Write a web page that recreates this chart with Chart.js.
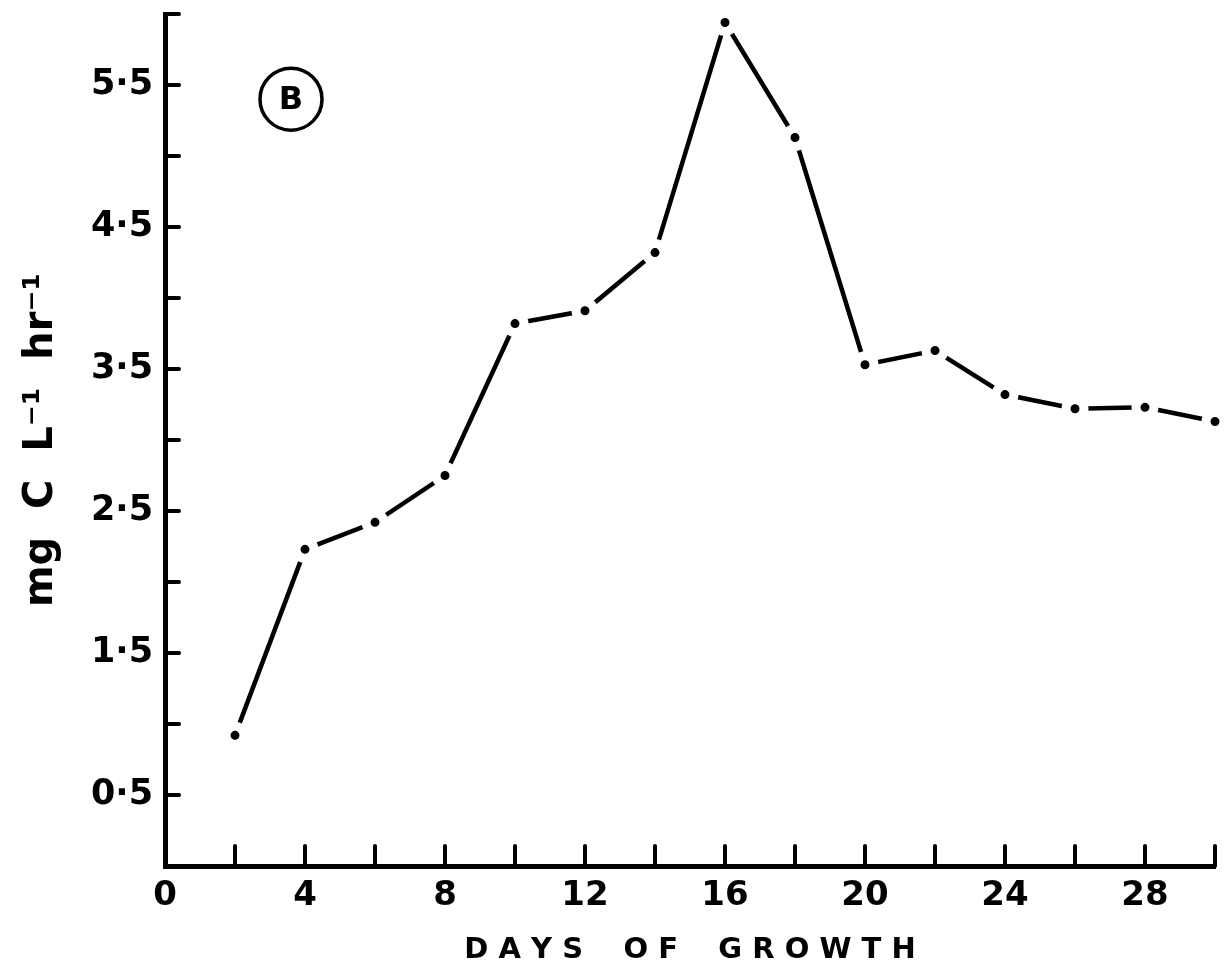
<!DOCTYPE html>
<html>
<head>
<meta charset="utf-8">
<script src="https://cdn.jsdelivr.net/npm/chart.js@4.4.1/dist/chart.umd.min.js"></script>
<style>
  html, body { margin: 0; padding: 0; background: #fff; }
  #wrap { width: 1225px; height: 968px; }
</style>
</head>
<body>
<div id="wrap"><canvas id="growth-chart" width="1225" height="968"></canvas></div>
<script>
    // days of growth and carbon uptake (mg C per litre per hour)
    const days = [2, 4, 6, 8, 10, 12, 14, 16, 18, 20, 22, 24, 26, 28, 30];
    const carbon = [0.92, 2.23, 2.42, 2.75, 3.82, 3.91, 4.32, 5.94, 5.13, 3.53, 3.63, 3.32, 3.22, 3.23, 3.13];
    const xTickLabels = [0, 4, 8, 12, 16, 20, 24, 28];
    const yTickLabels = [0.5, 1.5, 2.5, 3.5, 4.5, 5.5];

    const ink = '#000';

    // inward tick marks + panel letter, drawn from the scales
    const inwardTicks = {
        id: 'inwardTicks',
        afterDraw: function (chart) {
            const ctx = chart.ctx;
            const xs = chart.scales.x;
            const ys = chart.scales.y;
            const area = chart.chartArea;
            ctx.save();
            ctx.strokeStyle = ink;
            ctx.lineWidth = 4;
            ctx.lineCap = 'round';
            for (let d = 2; d <= 30; d += 2) {
                const px = xs.getPixelForValue(d);
                ctx.beginPath();
                ctx.moveTo(px, area.bottom);
                ctx.lineTo(px, area.bottom - 20);
                ctx.stroke();
            }
            for (let v = 0.5; v <= 6.0001; v += 0.5) {
                const py = ys.getPixelForValue(v);
                ctx.beginPath();
                ctx.moveTo(area.left, py);
                ctx.lineTo(area.left + 14, py);
                ctx.stroke();
            }
            // circled B
            const bx = xs.getPixelForValue(3.6);
            const by = ys.getPixelForValue(5.4);
            ctx.lineWidth = 3.5;
            ctx.beginPath();
            ctx.arc(bx, by, 31, 0, Math.PI * 2);
            ctx.stroke();
            ctx.fillStyle = ink;
            ctx.font = 'bold 32px "DejaVu Sans"';
            ctx.textAlign = 'center';
            ctx.textBaseline = 'middle';
            ctx.fillText('B', bx, by + 1);
            ctx.restore();
        }
    };

    const ctx = document.getElementById('growth-chart');
    new Chart(ctx, {
        type: 'line',
        data: {
            labels: days,
            datasets: [{
                label: 'carbon uptake',
                data: days.map((d, i) => ({ x: d, y: carbon[i] })),
                borderColor: ink,
                borderWidth: 4.5,
                pointRadius: 9,
                pointBorderWidth: 9,
                pointBackgroundColor: ink,
                pointBorderColor: '#fff',
                tension: 0,
                fill: false,
                clip: false
            }]
        },
        options: {
            responsive: false,
            animation: false,
            layout: { autoPadding: false, padding: { top: 14, right: 10, left: 0, bottom: 0 } },
            plugins: {
                legend: { display: false },
                tooltip: { enabled: false }
            },
            scales: {
                x: {
                    type: 'linear',
                    min: 0,
                    max: 30,
                    afterBuildTicks: function (scale) {
                        scale.ticks = xTickLabels.map(v => ({ value: v }));
                    },
                    afterFit: function (scale) {
                        scale.height = 102;
                        scale.paddingLeft = 0;
                        scale.paddingRight = 0;
                    },
                    grid: { display: false, drawTicks: false },
                    border: { display: true, color: ink, width: 5 },
                    ticks: {
                        color: ink,
                        font: { family: 'DejaVu Sans', weight: 'bold', size: 34 },
                        padding: 10,
                        maxRotation: 0,
                        autoSkip: false
                    },
                    title: {
                        display: true,
                        text: 'D A Y S    O F    G R O W T H',
                        color: ink,
                        font: { family: 'DejaVu Sans', weight: 'bold', size: 29 },
                        padding: { top: 2, bottom: 0 }
                    }
                },
                y: {
                    type: 'linear',
                    min: 0,
                    max: 6,
                    afterBuildTicks: function (scale) {
                        scale.ticks = yTickLabels.map(v => ({ value: v }));
                    },
                    afterFit: function (scale) {
                        scale.width = 165;
                        scale.paddingTop = 0;
                        scale.paddingBottom = 0;
                    },
                    grid: { display: false, drawTicks: false },
                    border: { display: true, color: ink, width: 5 },
                    ticks: {
                        color: ink,
                        font: { family: 'DejaVu Sans', weight: 'bold', size: 35 },
                        padding: 12,
                        autoSkip: false,
                        callback: function (v) { return v.toFixed(1).replace('.', '·'); }
                    },
                    title: {
                        display: true,
                        text: 'mg  C  L⁻¹  hr⁻¹',
                        color: ink,
                        font: { family: 'DejaVu Sans', weight: 'bold', size: 40 },
                        padding: { top: 18, bottom: 0 }
                    }
                }
            }
        },
        plugins: [inwardTicks]
    });
</script>
</body>
</html>
